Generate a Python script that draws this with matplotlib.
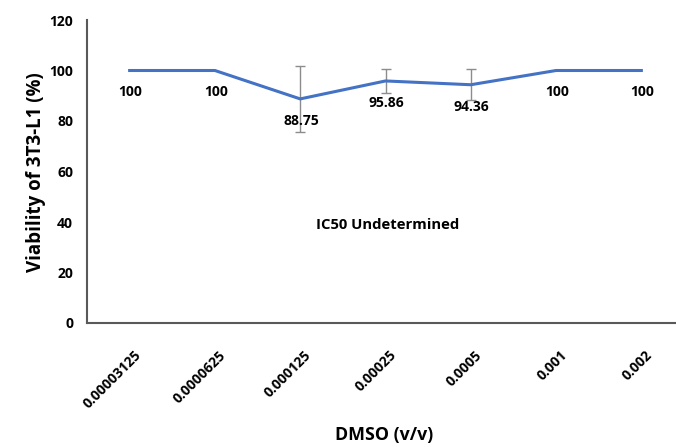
import numpy as np
import matplotlib.pyplot as plt

# =========================
# DATA
# =========================
dmso = ["0.00003125", "0.0000625", "0.000125", "0.00025", "0.0005", "0.001", "0.002"]
viability = [100, 100, 88.75, 95.86, 94.36, 100, 100]
viability_err = [0, 0, 13.0, 4.6, 6.2, 0, 0]
point_labels = ["100", "100", "88.75", "95.86", "94.36", "100", "100"]

plt.rcParams["font.family"] = ["Open Sans", "DejaVu Sans"]

W, H = 676, 447
fig = plt.figure(figsize=(W / 100, H / 100), dpi=100)

# axes box in pixels (the x axis runs a bit past the right edge, like the original)
left, right, top, bottom = 87, 684, 20, 323
ax = fig.add_axes([left / W, 1 - bottom / H, (right - left) / W, (bottom - top) / H])

x = np.arange(len(dmso))
err = np.array(viability_err)
ax.plot(x, viability, color="#4472C4", lw=2.2, zorder=3)

# error bars only where there is a spread
m = err > 0
ax.errorbar(x[m], np.array(viability)[m], yerr=err[m], fmt="none",
            ecolor="#8C8C8C", elinewidth=1.0, capsize=3.5, capthick=1.0, zorder=2)

for xi, yi, lab in zip(x, viability, point_labels):
    ax.annotate(lab, (xi, yi), xytext=(1, -22), textcoords="offset pixels",
                ha="center", va="center", fontsize=10, fontweight="bold", zorder=4)

ax.set_xlim(-0.5, len(dmso) - 0.5)
ax.set_ylim(0, 120)
ax.set_yticks(np.arange(0, 121, 20))
ax.set_xticks(x)
ax.set_xticklabels(dmso, rotation=45, ha="right", rotation_mode="anchor",
                   fontsize=10, fontweight="bold")
ax.tick_params(axis="x", length=0, pad=18)
ax.tick_params(axis="y", length=0, pad=10, labelsize=10, labelcolor="black")
for t in ax.get_yticklabels():
    t.set_fontweight("bold")
# nudge rotated labels a little right, as in the original
from matplotlib.transforms import ScaledTranslation
for t in ax.get_xticklabels():
    t.set_transform(t.get_transform() + ScaledTranslation(0.04, 0, fig.dpi_scale_trans))

for s in ["top", "right"]:
    ax.spines[s].set_visible(False)
for s in ["left", "bottom"]:
    ax.spines[s].set_color("#595959")
    ax.spines[s].set_linewidth(1.5)

fig.text(388 / W, 1 - 225 / H, "IC50 Undetermined", ha="center", va="center",
         fontsize=10.7, fontweight="bold")

fig.text(384 / W, 1 - 435 / H, "DMSO (v/v)", ha="center", va="center",
         fontsize=12.8, fontweight="bold")
fig.text(36 / W, 1 - 172 / H, "Viability of 3T3-L1 (%)", ha="center", va="center",
         rotation=90, fontsize=13.5, fontweight="bold")

fig.savefig("out.png", dpi=100)
